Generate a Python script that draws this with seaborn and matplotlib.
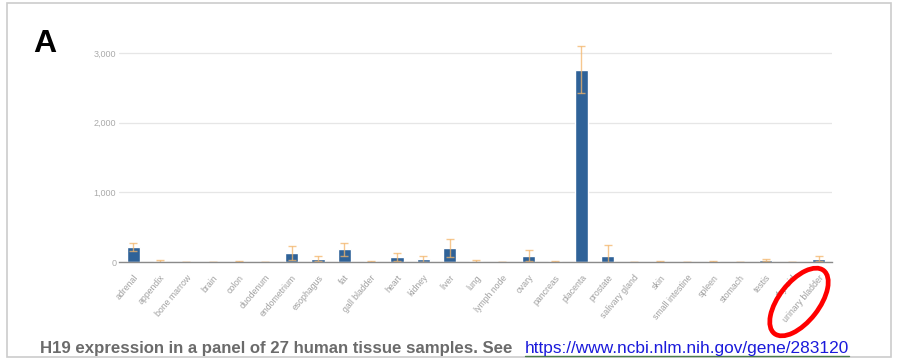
import matplotlib
matplotlib.use("Agg")
import matplotlib.pyplot as plt
import seaborn as sns
import numpy as np
import pandas as pd
from matplotlib.patches import Ellipse, Rectangle
from matplotlib.lines import Line2D

tissues = ["adrenal", "appendix", "bone marrow", "brain", "colon", "duodenum",
           "endometrium", "esophagus", "fat", "gall bladder", "heart", "kidney",
           "liver", "lung", "lymph node", "ovary", "pancreas", "placenta",
           "prostate", "salivary gland", "skin", "small intestine", "spleen",
           "stomach", "testis", "thyroid", "urinary bladder"]
values = [215, 12, 2, 2, 3, 2, 130, 50, 180, 12, 70, 45, 200, 15, 3, 90, 10,
          2760, 90, 3, 6, 3, 8, 4, 25, 4, 50]
errors = [55, 12, 3, 3, 6, 3, 100, 40, 90, 8, 60, 45, 130, 10, 3, 80, 8,
          340, 160, 3, 5, 3, 6, 3, 15, 3, 30]
yticks = [0, 1000, 2000, 3000]
caption = "H19 expression in a panel of 27 human tissue samples. See "
link = "https://www.ncbi.nlm.nih.gov/gene/283120"

sns.set_theme(style="white")
plt.rcParams['font.family'] = ['Liberation Sans', 'DejaVu Sans']

W, H = 897, 359
fig = plt.figure(figsize=(W / 100, H / 100), dpi=100)
ax = fig.add_axes([119 / W, (H - 262) / H, (832 - 119) / W, (262 - 39) / H])

df = pd.DataFrame({"tissue": tissues, "value": values})
sns.barplot(data=df, x="tissue", y="value", color="#2f6298", saturation=1,
            width=0.5, ax=ax, zorder=2)
ax.errorbar(np.arange(len(tissues)), values, yerr=errors, fmt="none",
            ecolor="#f3b56a", elinewidth=1.0, capsize=3, capthick=1.0,
            alpha=0.75, zorder=3)

ax.set_xlim(-0.55, 26.51)
ax.set_ylim(0, 3200)
ax.set_yticks(yticks)
ax.set_yticklabels([f"{v:,}" for v in yticks], fontsize=6.5, color="#aaaaaa")
ax.yaxis.grid(True, color="#e6e6e6", linewidth=0.9, zorder=0)
ax.set_axisbelow(True)
ax.set_xlabel("")
ax.set_ylabel("")
for s in ["top", "right", "left"]:
    ax.spines[s].set_visible(False)
ax.spines["bottom"].set_color("#8a8a8a")
ax.spines["bottom"].set_linewidth(1.0)
ax.spines["bottom"].set_zorder(4)
ax.tick_params(axis="y", length=0, pad=2)
ax.tick_params(axis="x", length=0, pad=8)
ax.set_xticks(np.arange(len(tissues)))
ax.set_xticklabels(tissues, rotation=50, ha="right", rotation_mode="anchor",
                   fontsize=6.3, color="#a0a0a0")

# panel letter
fig.text(33 / W, (H - 52) / H, "A", fontsize=23, fontweight="bold",
         color="black", ha="left", va="baseline")

# border
fig.patches.append(Rectangle((7 / W, 2 / H), (891 - 7) / W, (356 - 2) / H,
                             transform=fig.transFigure, fill=False,
                             edgecolor="#cccccc", linewidth=1.2))

# caption
t1 = fig.text(40 / W, (H - 353) / H, caption, fontsize=12.1, fontweight="bold",
              color="#6b6b6b", ha="left", va="baseline")
t2 = fig.text(525 / W, (H - 353) / H, link, fontsize=12.4, color="#1a1adb",
              ha="left", va="baseline")
fig.canvas.draw()
bb = t2.get_window_extent()
fig.add_artist(Line2D([bb.x0 / W, bb.x1 / W], [(H - 356) / H, (H - 356) / H],
                      transform=fig.transFigure, color="#4a7a4a", linewidth=1))

# red ellipse highlight
fig.patches.append(Ellipse((7.99, (H - 302) / 100), 0.80, 0.40, angle=52,
                           transform=fig.dpi_scale_trans, fill=False,
                           edgecolor="red", linewidth=3.4))

fig.savefig("out.png", dpi=100)
